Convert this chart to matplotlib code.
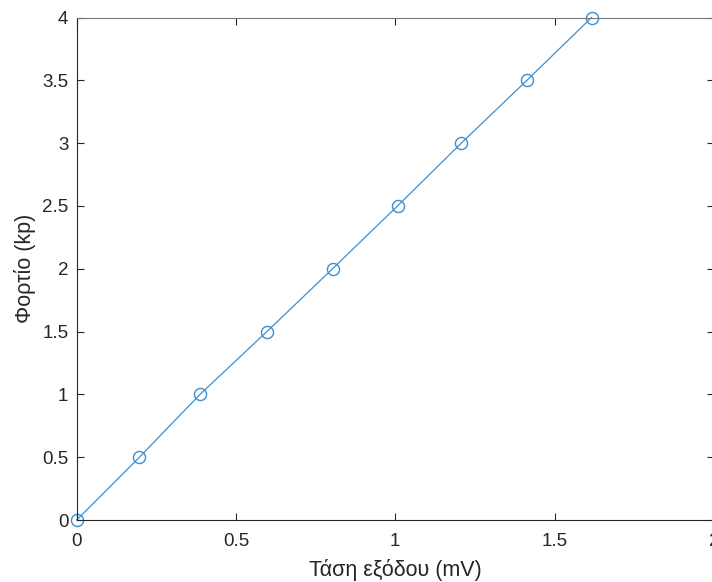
import matplotlib
matplotlib.use('Agg')
import matplotlib.pyplot as plt

plt.rcParams['font.family'] = ['Liberation Sans', 'DejaVu Sans']

# output voltage (mV) vs load (kp)
voltage = [0, 0.197, 0.387, 0.597, 0.803, 1.007, 1.207, 1.413, 1.616]
load = [0, 0.5, 1.0, 1.5, 2.0, 2.5, 3.0, 3.5, 4.0]

xticks = [0, 0.5, 1, 1.5, 2]
yticks = [0, 0.5, 1, 1.5, 2, 2.5, 3, 3.5, 4]

fig = plt.figure(figsize=(7.12, 5.82), dpi=100)
ax = fig.add_axes([0.1077, 0.1065, 0.895, 0.8634])

line_col = '#3b90d2'
ax.plot(voltage, load, '-o', color=line_col, linewidth=0.9,
        markersize=8.7, markerfacecolor='none', markeredgewidth=1.0,
        clip_on=False)

ax.set_xlim(0, 2)
ax.set_ylim(0, 4)
ax.set_xticks(xticks)
ax.set_xticklabels(['0', '0.5', '1', '1.5', '2'])
ax.set_yticks(yticks)
ax.set_yticklabels(['0', '0.5', '1', '1.5', '2', '2.5', '3', '3.5', '4'])

axcol = '#262626'
for side in ['left', 'bottom']:
    ax.spines[side].set_color(axcol)
    ax.spines[side].set_linewidth(0.8)
for side in ['top', 'right']:
    ax.spines[side].set_color('#777777')
    ax.spines[side].set_linewidth(0.8)

ax.tick_params(direction='in', length=5, width=0.8, color=axcol,
               labelcolor=axcol, labelsize=13.5, top=True, right=True)
ax.tick_params(axis='x', pad=9)
ax.tick_params(axis='y', pad=6)

ax.set_xlabel('Τάση εξόδου (mV)', fontsize=15.5, color=axcol, labelpad=6.5)
ax.set_ylabel('Φορτίο (kp)', fontsize=15.5, color=axcol, labelpad=4.5)

fig.savefig('out.png', dpi=100)
